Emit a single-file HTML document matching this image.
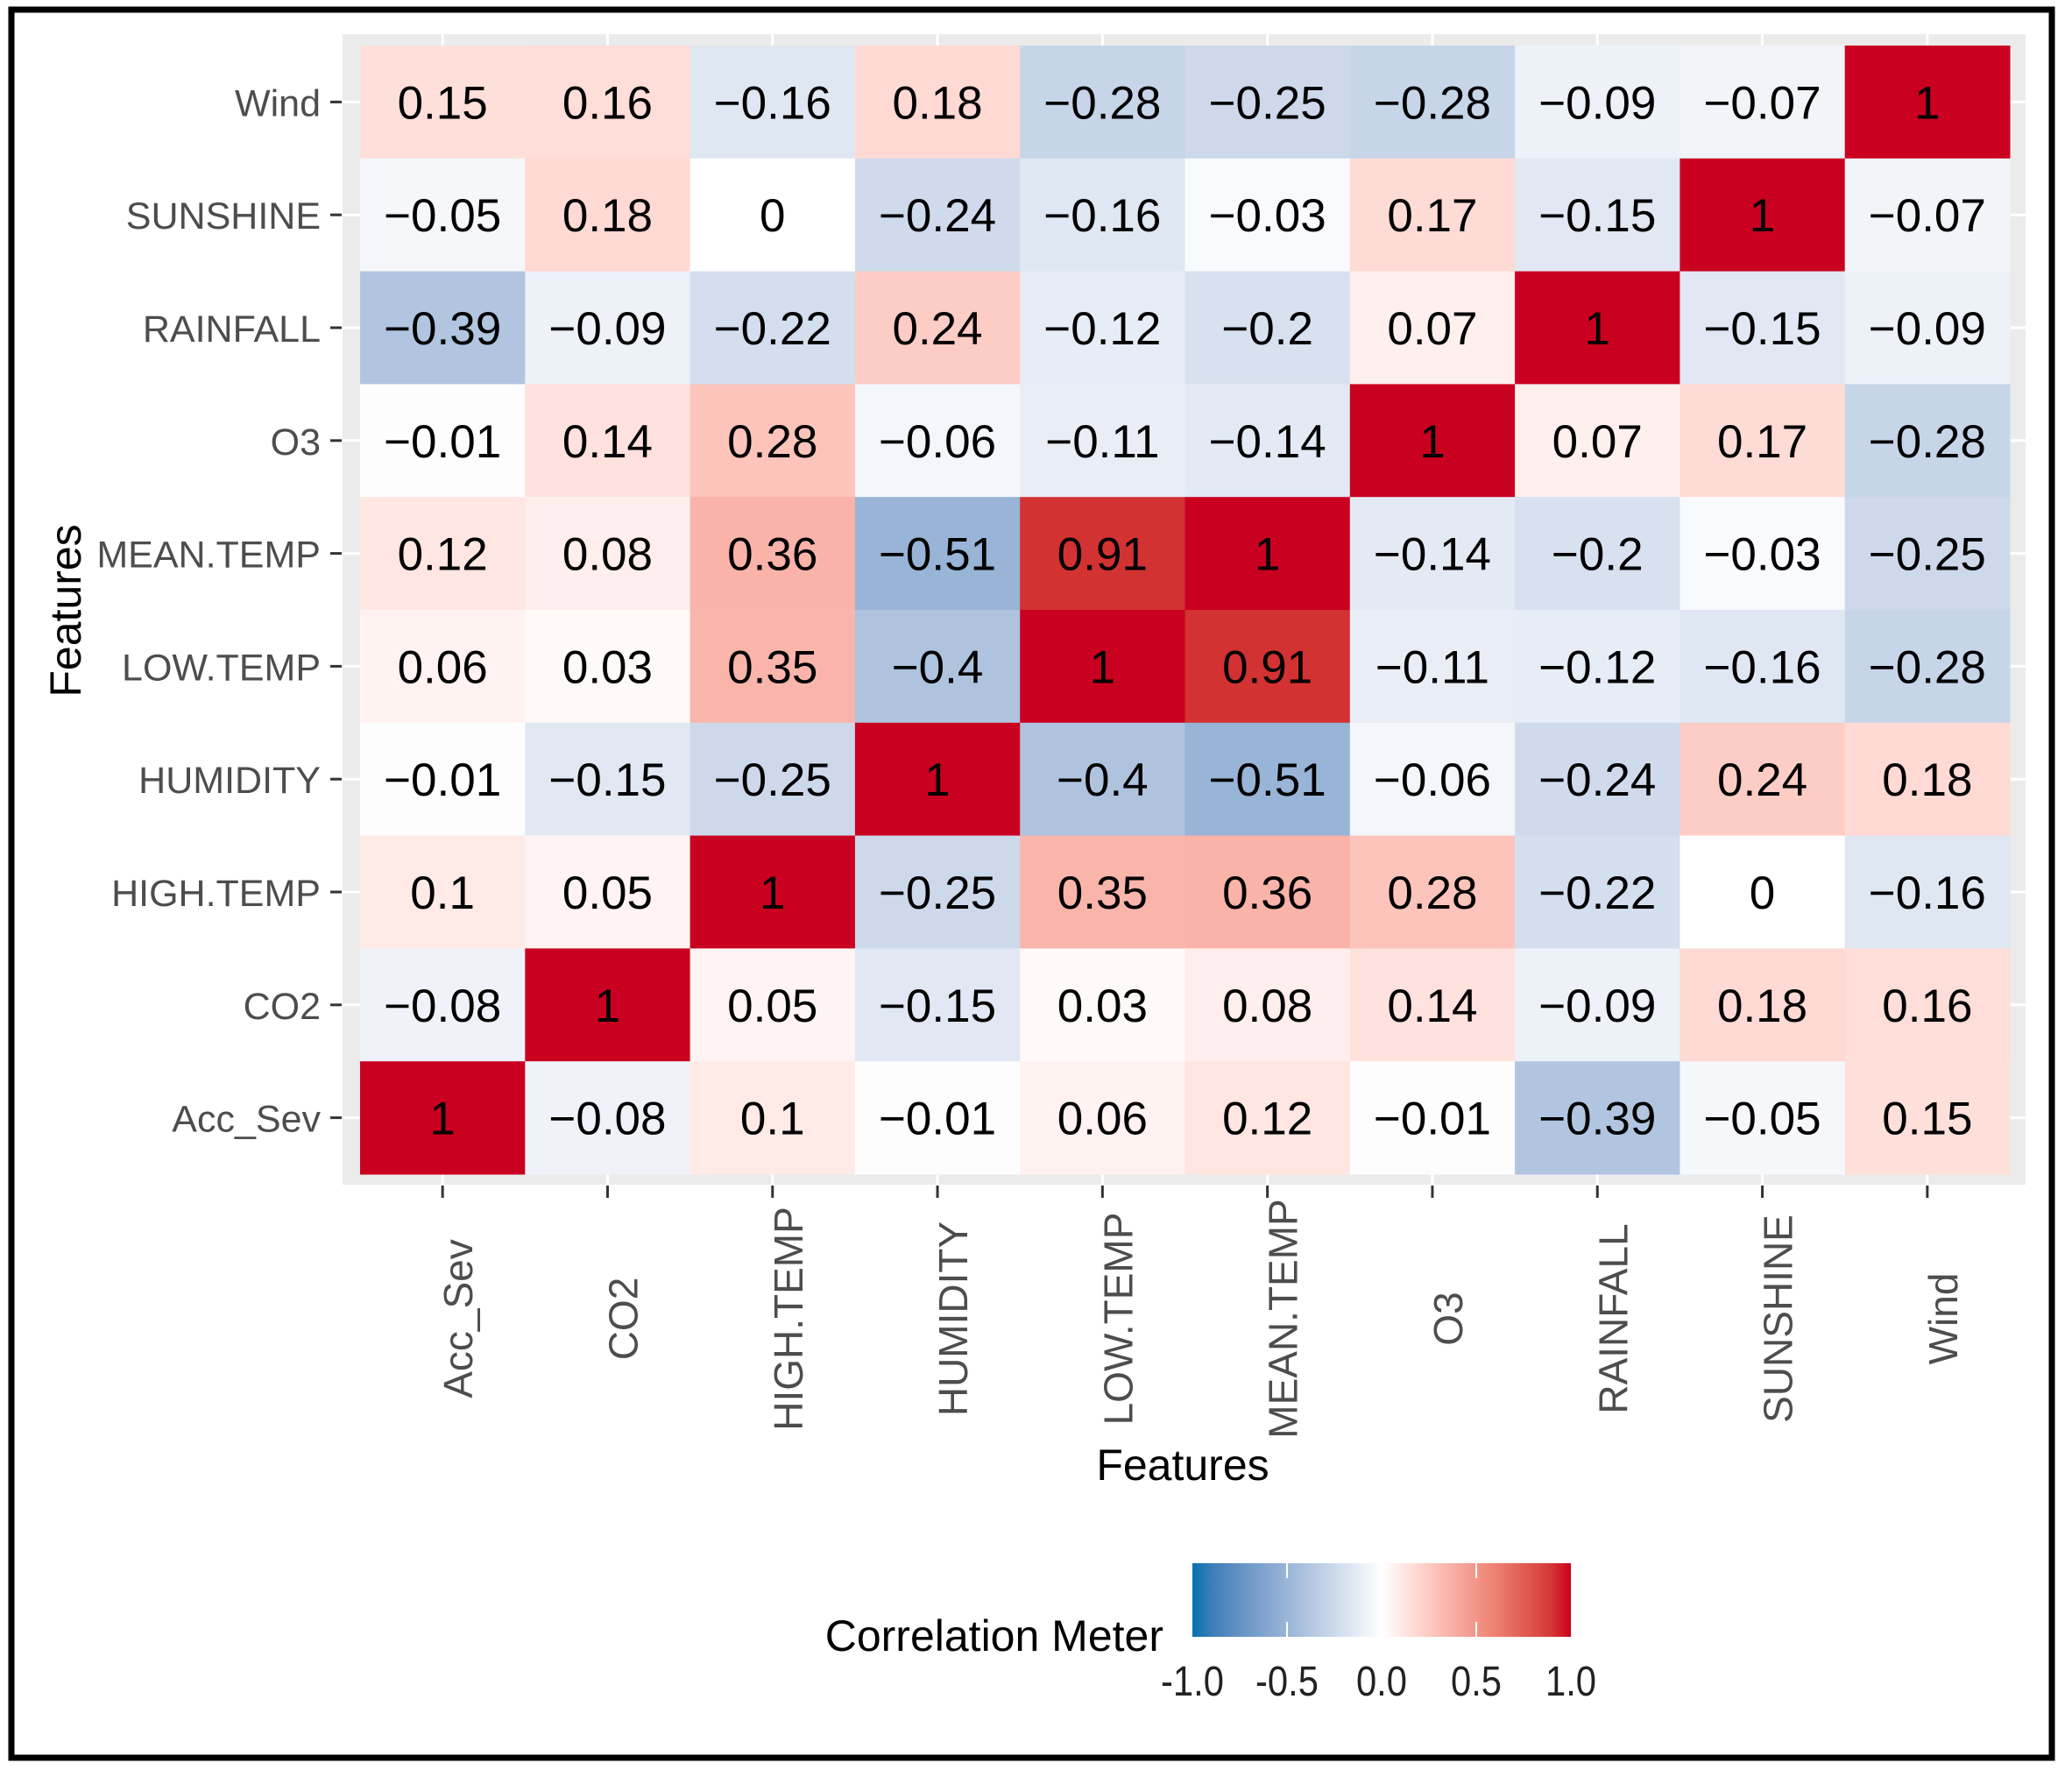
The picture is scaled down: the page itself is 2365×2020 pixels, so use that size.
<!DOCTYPE html>
<html><head><meta charset="utf-8"><style>
html,body{margin:0;padding:0;background:#fff;}
svg text{font-family:"Liberation Sans",sans-serif;}
</style></head><body>
<svg id="chart" width="2365" height="2015" viewBox="0 0 2365 2015" xmlns="http://www.w3.org/2000/svg">
<rect x="13" y="11" width="2329" height="1995" fill="#fff" stroke="#000" stroke-width="7"/>
<rect x="391" y="39" width="1921" height="1313" fill="#EBEBEB"/>
<g id="grid"></g><g id="cells"></g><g id="labels"></g><g id="yaxis"></g><g id="xaxis"></g>
<text x="1350" y="1689" font-size="50" text-anchor="middle" fill="#000">Features</text>
<text transform="translate(92,697) rotate(-90)" font-size="50" text-anchor="middle" fill="#000">Features</text>
<g id="legend">
<defs><linearGradient id="lg" x1="0" x2="1" y1="0" y2="0"></linearGradient></defs>
<text x="1328" y="1884" font-size="50" text-anchor="end" fill="#000">Correlation Meter</text>
<rect x="1361" y="1784" width="432" height="84" fill="url(#lg)"/>
</g>
</svg>
<script>
const rowLabels = ["Wind","SUNSHINE","RAINFALL","O3","MEAN.TEMP","LOW.TEMP","HUMIDITY","HIGH.TEMP","CO2","Acc_Sev"];
const colLabels = ["Acc_Sev","CO2","HIGH.TEMP","HUMIDITY","LOW.TEMP","MEAN.TEMP","O3","RAINFALL","SUNSHINE","Wind"];
const rowWind      = [0.15,0.16,-0.16,0.18,-0.28,-0.25,-0.28,-0.09,-0.07,1];
const rowSunshine  = [-0.05,0.18,0,-0.24,-0.16,-0.03,0.17,-0.15,1,-0.07];
const rowRainfall  = [-0.39,-0.09,-0.22,0.24,-0.12,-0.2,0.07,1,-0.15,-0.09];
const rowO3        = [-0.01,0.14,0.28,-0.06,-0.11,-0.14,1,0.07,0.17,-0.28];
const rowMeanTemp  = [0.12,0.08,0.36,-0.51,0.91,1,-0.14,-0.2,-0.03,-0.25];
const rowLowTemp   = [0.06,0.03,0.35,-0.4,1,0.91,-0.11,-0.12,-0.16,-0.28];
const rowHumidity  = [-0.01,-0.15,-0.25,1,-0.4,-0.51,-0.06,-0.24,0.24,0.18];
const rowHighTemp  = [0.1,0.05,1,-0.25,0.35,0.36,0.28,-0.22,0,-0.16];
const rowCO2       = [-0.08,1,0.05,-0.15,0.03,0.08,0.14,-0.09,0.18,0.16];
const rowAccSev    = [1,-0.08,0.1,-0.01,0.06,0.12,-0.01,-0.39,-0.05,0.15];
const legendTicks  = [-1,-0.5,0,0.5,1];
const legendTickLabels = ["-1.0","-0.5","0.0","0.5","1.0"];
const values = [rowWind,rowSunshine,rowRainfall,rowO3,rowMeanTemp,rowLowTemp,rowHumidity,rowHighTemp,rowCO2,rowAccSev];

const NS="http://www.w3.org/2000/svg";
const X0=411, X1=2294, Y0=52, Y1=1340;
const cw=(X1-X0)/colLabels.length, rh=(Y1-Y0)/rowLabels.length;
const xScale=i=>X0+i*cw, yScale=j=>Y0+j*rh;
const legX=v=>1361+(v+1)/2*432;

function toLin(c){c/=255;return c<=0.04045?c/12.92:Math.pow((c+0.055)/1.055,2.4);}
function fromLin(c){c=c<=0.0031308?12.92*c:1.055*Math.pow(c,1/2.4)-0.055;return Math.max(0,Math.min(255,Math.round(c*255)));}
function rgb2lab(r,g,b){r=toLin(r);g=toLin(g);b=toLin(b);
 let x=(0.4124*r+0.3576*g+0.1805*b)/0.95047,y=(0.2126*r+0.7152*g+0.0722*b),z=(0.0193*r+0.1192*g+0.9505*b)/1.08883;
 const f=t=>t>0.008856?Math.cbrt(t):7.787*t+16/116;x=f(x);y=f(y);z=f(z);
 return [116*y-16,500*(x-y),200*(y-z)];}
function lab2rgb(L,a,b){let y=(L+16)/116,x=a/500+y,z=y-b/200;
 const fi=t=>t*t*t>0.008856?t*t*t:(t-16/116)/7.787;x=fi(x)*0.95047;y=fi(y);z=fi(z)*1.08883;
 const r=3.2406*x-1.5372*y-0.4986*z,g=-0.9689*x+1.8758*y+0.0415*z,bb=0.0557*x-0.2040*y+1.0570*z;
 return `rgb(${fromLin(r)},${fromLin(g)},${fromLin(bb)})`;}
const LOW=rgb2lab(5,113,176), MID=rgb2lab(255,255,255), HIGH=rgb2lab(202,0,32);
function color(v){const e=v<0?LOW:HIGH,t=Math.min(1,Math.abs(v));
 return lab2rgb(MID[0]+(e[0]-MID[0])*t,MID[1]+(e[1]-MID[1])*t,MID[2]+(e[2]-MID[2])*t);}
function fmt(v){return v<0?"\u2212"+String(Math.abs(v)):String(v);}

const grid=document.getElementById('grid'),cells=document.getElementById('cells'),labs=document.getElementById('labels');
const ya=document.getElementById('yaxis'),xa=document.getElementById('xaxis');
for(let i=0;i<colLabels.length;i++){
 const cx=xScale(i)+cw/2;
 const gl=document.createElementNS(NS,'line');
 
 
 gl.setAttribute('x1',cx);gl.setAttribute('x2',cx);gl.setAttribute('y1',39);gl.setAttribute('y2',1352);gl.setAttribute('stroke','#fff');gl.setAttribute('stroke-width',3);
 grid.appendChild(gl);
 const tk=document.createElementNS(NS,'line');
 
 
 tk.setAttribute('x1',cx);tk.setAttribute('x2',cx);tk.setAttribute('y1',1353);tk.setAttribute('y2',1367);tk.setAttribute('stroke','#333');tk.setAttribute('stroke-width',3);
 xa.appendChild(tk);
 const t=document.createElementNS(NS,'text');
 
 
 t.setAttribute('transform',`translate(${cx+18},1505) rotate(-90)`);
 t.setAttribute('text-anchor','middle');t.setAttribute('dominant-baseline','central');t.setAttribute('font-size','46');t.setAttribute('fill','#4D4D4D');
 t.textContent=colLabels[i];xa.appendChild(t);
}
for(let j=0;j<rowLabels.length;j++){
 const cy=yScale(j)+rh/2;
 const gl=document.createElementNS(NS,'line');
 
 
 gl.setAttribute('x1',391);gl.setAttribute('x2',2312);gl.setAttribute('y1',cy);gl.setAttribute('y2',cy);gl.setAttribute('stroke','#fff');gl.setAttribute('stroke-width',3);
 grid.appendChild(gl);
 const tk=document.createElementNS(NS,'line');
 
 
 tk.setAttribute('x1',377);tk.setAttribute('x2',390);tk.setAttribute('y1',cy);tk.setAttribute('y2',cy);tk.setAttribute('stroke','#333');tk.setAttribute('stroke-width',3);
 ya.appendChild(tk);
 const t=document.createElementNS(NS,'text');
 
 
 t.setAttribute('x',366);t.setAttribute('y',cy+16);t.setAttribute('text-anchor','end');t.setAttribute('font-size','43');t.setAttribute('fill','#4D4D4D');
 t.textContent=rowLabels[j];ya.appendChild(t);
 for(let i=0;i<colLabels.length;i++){
  const v=values[j][i];
  const r=document.createElementNS(NS,'rect');
  
  
  r.setAttribute('x',xScale(i));r.setAttribute('y',yScale(j));r.setAttribute('width',cw+0.5);r.setAttribute('height',rh+0.5);r.setAttribute('fill',color(v));
  cells.appendChild(r);
  const t2=document.createElementNS(NS,'text');
  
  
  t2.setAttribute('x',xScale(i)+cw/2);t2.setAttribute('y',yScale(j)+rh/2+19);t2.setAttribute('text-anchor','middle');t2.setAttribute('font-size','53');t2.setAttribute('fill','#000');
  t2.textContent=fmt(v);labs.appendChild(t2);
 }
}
const lg=document.getElementById('lg');
for(let k=0;k<=20;k++){const v=-1+k*0.1;const s=document.createElementNS(NS,'stop');s.setAttribute('offset',(k/20));s.setAttribute('stop-color',color(v));lg.appendChild(s);}
const leg=document.getElementById('legend');
legendTicks.forEach((v,k)=>{
 const x=legX(v);
 if(k>0&&k<legendTicks.length-1){
  ['a','b'].forEach(p=>{const l=document.createElementNS(NS,'line');
   
   
   const y=p==='a'?1784:1851;l.setAttribute('x1',x);l.setAttribute('x2',x);l.setAttribute('y1',y);l.setAttribute('y2',y+17);l.setAttribute('stroke','#fff');l.setAttribute('stroke-width',2);leg.appendChild(l);});
 }
 const t=document.createElementNS(NS,'text');
 
 
 t.setAttribute('x',x);t.setAttribute('y',1935);t.setAttribute('text-anchor','middle');t.setAttribute('font-size','48');t.setAttribute('fill','#222');
 t.setAttribute('transform',`translate(${x},0) scale(0.87,1) translate(${-x},0)`);
 t.textContent=legendTickLabels[k];leg.appendChild(t);
});
</script>
</body></html>
